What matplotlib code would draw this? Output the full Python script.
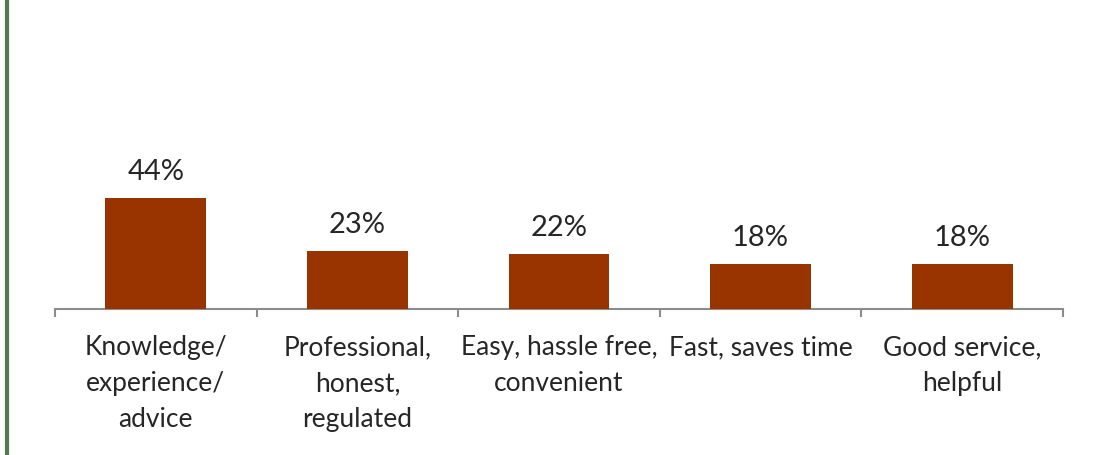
import numpy as np
import matplotlib
matplotlib.use("Agg")
import matplotlib.pyplot as plt
import matplotlib.ticker as tck
from matplotlib.lines import Line2D

CATEGORIES = ["Knowledge/\nexperience/\nadvice", "Professional,\nhonest,\nregulated",
              "Easy, hassle free,\nconvenient", "Fast, saves time", "Good service,\nhelpful"]
VALUES = [44, 23, 22, 18, 18]
VALUE_LABELS = ["44%", "23%", "22%", "18%", "18%"]

BAR_COLOR = "#993300"
AXIS_COLOR = "#8c8c8c"
TEXT_COLOR = "#262626"

plt.rcParams["font.family"] = ["Lato", "DejaVu Sans"]

fig = plt.figure(figsize=(11.11, 4.56), dpi=100)
ax = fig.add_axes([55 / 1111, 1 - 310 / 456, (1063 - 55) / 1111, 126 / 456])

x = np.arange(len(VALUES))
bars = ax.bar(x, VALUES, width=0.5, color=BAR_COLOR, zorder=3)

for rect, lab in zip(bars, VALUE_LABELS):
    ax.annotate(lab, (rect.get_x() + rect.get_width() / 2, rect.get_height()),
                xytext=(0, 10), textcoords="offset points", ha="center", va="bottom",
                fontsize=21, color=TEXT_COLOR)

ax.set_xlim(-0.5, len(VALUES) - 0.5)
ax.set_ylim(0, 50)

for side in ["left", "right", "top"]:
    ax.spines[side].set_visible(False)
ax.spines["bottom"].set_color(AXIS_COLOR)
ax.spines["bottom"].set_linewidth(1.5)
ax.set_yticks([])

ax.xaxis.set_major_locator(tck.FixedLocator(x))
ax.set_xticklabels(CATEGORIES, fontsize=19, color=TEXT_COLOR, linespacing=1.55, va="top")
ax.tick_params(axis="x", which="major", length=0, pad=18)
ax.xaxis.set_minor_locator(tck.FixedLocator(np.arange(len(VALUES) + 1) - 0.5))
ax.tick_params(axis="x", which="minor", length=6, width=1.5, color=AXIS_COLOR, direction="out")

# green border on the left of the slide
fig.add_artist(Line2D([6.5 / 1111, 6.5 / 1111], [0, 1], transform=fig.transFigure,
                      color="#507a50", linewidth=3))

fig.savefig("out.png", dpi=100)
